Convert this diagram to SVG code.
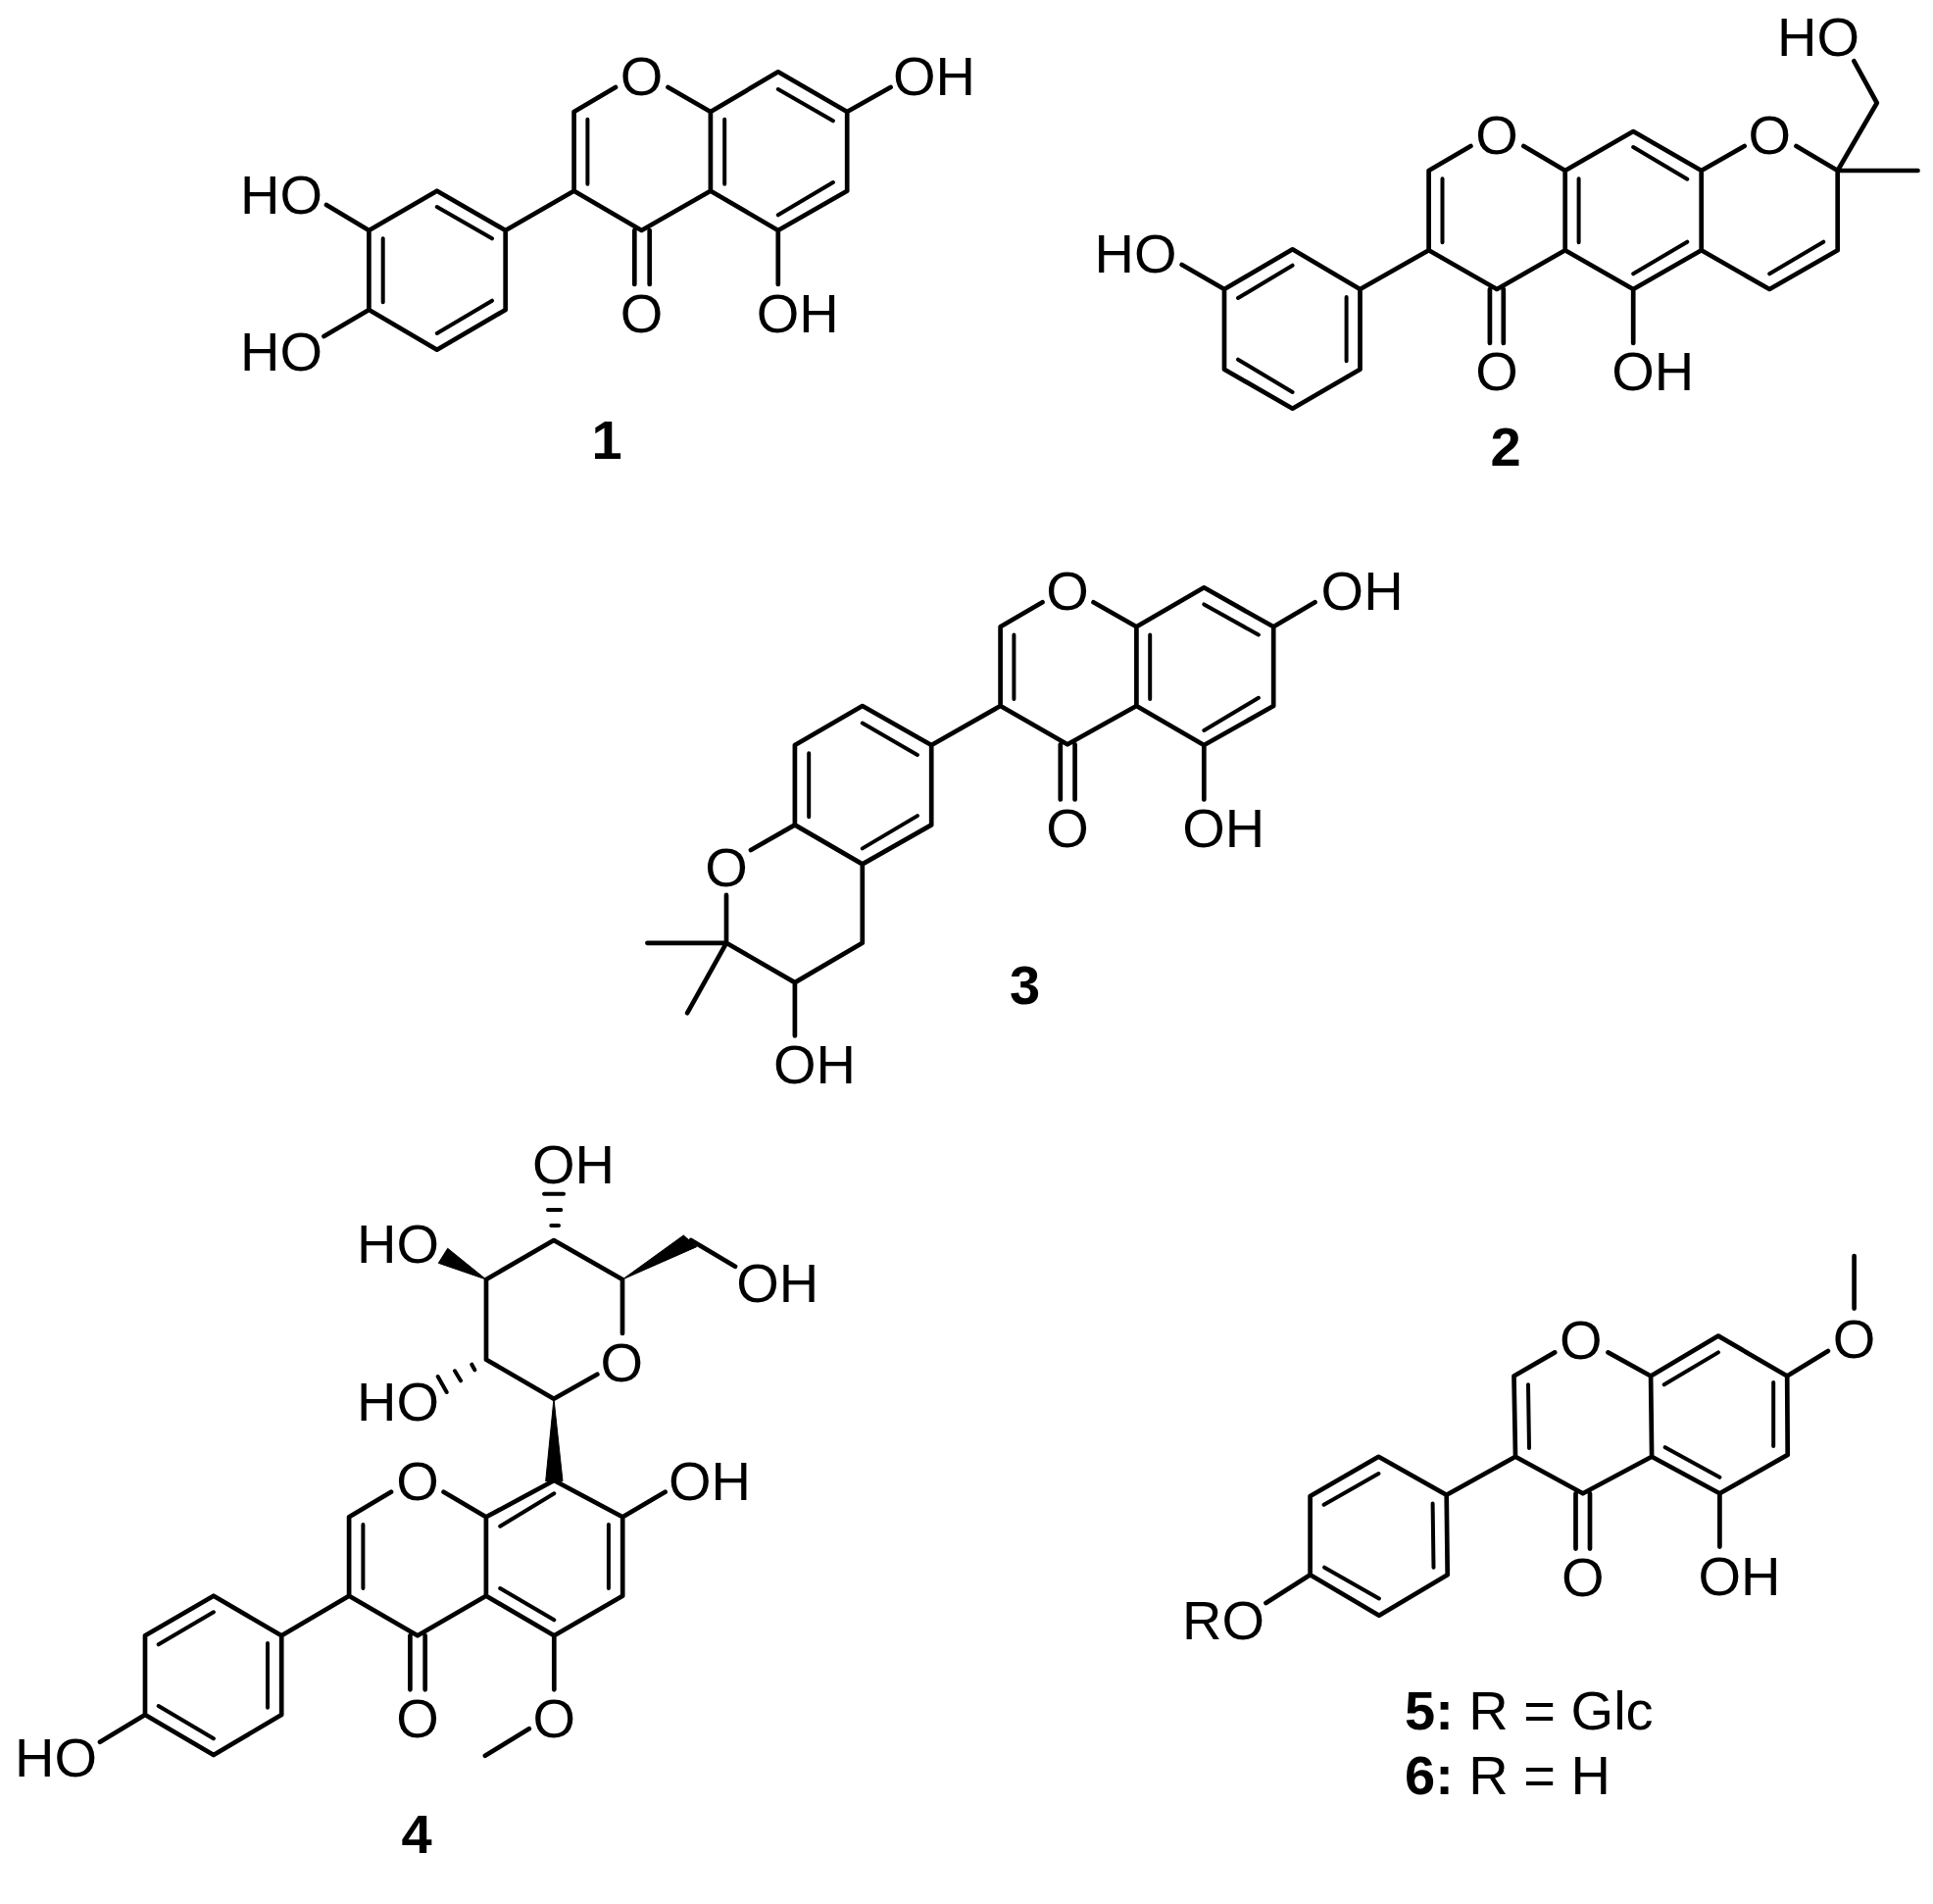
<svg xmlns="http://www.w3.org/2000/svg" width="1972" height="1942" viewBox="0 0 1972 1942">
<style>
.b{fill:none;stroke:#000;stroke-width:4.7;stroke-linecap:round;stroke-linejoin:round}
.i{fill:none;stroke:#000;stroke-width:4;stroke-linecap:round}
.w{fill:#000;stroke:#000;stroke-width:1;stroke-linejoin:round}
text{font-family:"Liberation Sans",Arial,sans-serif;font-size:56px;fill:#000}
.m{text-anchor:middle}
.n{font-weight:bold;font-size:56px}
</style>
<rect width="1972" height="1942" fill="#fff"/>
<g id="compound-1">
<g id="bonds-1">
<path class="b" d="M628 89L585.6 114V194.7L654.5 235L724.9 194.7V114L681.5 89M724.9 114L793.8 73.3L864.2 114V194.7L793.8 235L724.9 194.7M864.2 114L908.6 89M793.8 235V290M647.3 235V290M662.7 235V290M585.6 194.7L515.7 235L445.8 194.7L376.4 235V316L445.8 356.7L515.7 316V235M376.4 235L333 209M376.4 316L330.5 343"/>
<path class="i" d="M599.4 121.7V187.7M739.2 121.7V187.7M793.8 91L849.9 123.3M849.9 186L793.8 219.3M445.8 211L502 243.3M390.7 243.3V308.3M445.8 340L502 306.7"/>
</g>
<text class="m" x="654.5" y="96.5">O</text>
<text x="911" y="96.5">OH</text>
<text class="m" x="654.5" y="338.5">O</text>
<text x="771.8" y="338.5">OH</text>
<text x="245" y="217.5">HO</text>
<text x="245" y="377.5">HO</text>
<text class="n m" x="619" y="468">1</text>
</g>
<g id="compound-2">
<g id="bonds-2">
<path class="b" d="M1500.4 149L1457.6 174V255.3L1527.1 295L1596.7 255.3V174L1554.4 149M1596.7 174L1666.2 134L1735.7 174V255.3L1666.2 295L1596.7 255.3M1735.7 174L1779.6 149M1832.5 149L1874.7 174V255.3L1805.2 295L1735.7 255.3M1874.7 174L1914.8 105L1891.4 62.3M1874.7 174H1956.5M1666.2 295V350M1519.9 295V350M1533.8 295V350M1457.6 255.3L1387.5 295L1318.6 254.3L1249 295V376.7L1318.6 416.7L1387.5 376.7V295M1249 295L1205.7 270"/>
<path class="i" d="M1471.5 182.3V247.3M1610.6 182.3V247.3M1666.2 150L1721.3 182.7M1721.3 246.7L1666.2 279.3M1860.3 246.7L1805.2 279.3M1318.6 270.7L1263 304M1373.6 303V368.3M1263 366.7L1318.6 400"/>
</g>
<text class="m" x="1527.1" y="156.5">O</text>
<text class="m" x="1805.2" y="156.5">O</text>
<text x="1813" y="56.5">HO</text>
<text class="m" x="1527.1" y="397.5">O</text>
<text x="1644.2" y="397.5">OH</text>
<text x="1116.5" y="277.5">HO</text>
<text class="n m" x="1536" y="475">2</text>
</g>
<g id="compound-3">
<g id="bonds-3">
<path class="b" d="M1063.5 614.3L1020.6 639.3V720L1089 759.3L1159.4 720V639.3L1115.5 614.3M1159.4 639.3L1228.3 599.3L1299.2 639.3V720L1228.3 760L1159.4 720M1299.2 639.3L1341.5 614.3M1228.3 760V815.4M1081.8 759.3V815.4M1096.6 759.3V815.4M1020.6 720L950.2 760L879.8 720L810.9 760V841.4L879.8 881.4L950.2 841.4V760M810.9 841.4L766 867M741 912.9V961.8L810.9 1002.1L879.8 961.8V881.4M741 961.8H660.4M741 961.8L701.2 1033.2M810.9 1002.1V1056.4"/>
<path class="i" d="M1034.4 647.5V712.9M1173.2 647.5V712.9M1228.3 616.4L1283.9 647.5M1283.9 711.8L1228.3 745M879.8 737.5L935.9 770M825.2 768.2V833.2M879.8 865.4L935.9 832.1"/>
</g>
<text class="m" x="1089" y="621.5">O</text>
<text x="1347.6" y="621.5">OH</text>
<text class="m" x="1089" y="863.5">O</text>
<text x="1206.3" y="863.5">OH</text>
<text class="m" x="741" y="903.5">O</text>
<text x="788.9" y="1104.5">OH</text>
<text class="n m" x="1045.6" y="1024">3</text>
</g>
<g id="compound-4">
<g id="bonds-4">
<path class="b" d="M399 1521.7L356.1 1547.3V1627.7L426 1668.3L495.9 1627.7V1547.3L452.6 1521.7M495.9 1547.3L565.3 1510L635.2 1547.3V1627.7L565.3 1668.3L495.9 1627.7M635.2 1547.3L678.6 1521.7M565.3 1668.3V1723.3M418.4 1668.3V1723.3M433.7 1668.3V1723.3M539.8 1763.3L494.9 1790.7M356.1 1627.7L287.2 1668.3L217.9 1627.7L148 1668.3V1749L217.9 1790L287.2 1749V1668.3M148 1749L102 1776.7M609.3 1401.7L565 1426.7L496 1386.7V1305L565 1265L635 1305V1360M705 1265L750 1291.7"/>
<path class="i" d="M370.4 1555V1620M510.2 1556.7L565.3 1523.3M620.9 1555V1620M510.2 1620L565.3 1652.3M217.9 1644.3L161.7 1677.3M273 1676V1741.7M161.7 1740L217.9 1773.3M555 1217.7H575M559 1234H572.3M562.3 1250H570M481.3 1391.7L484.3 1397.3M464 1398.3L470 1408.3M446.7 1404L455.7 1420"/>
<path class="w" d="M496 1305L456.7 1273.3L447.3 1288.3Z"/>
<path class="w" d="M635 1305L697.3 1260L710.7 1271.7Z"/>
<path class="w" d="M565 1426.7L556.7 1510.7H574Z"/>
</g>
<text class="m" x="426" y="1529.5">O</text>
<text x="682" y="1529.5">OH</text>
<text class="m" x="426" y="1771.5">O</text>
<text class="m" x="565.3" y="1771.5">O</text>
<text x="15" y="1811.5">HO</text>
<text x="543" y="1206.5">OH</text>
<text x="364" y="1287.5">HO</text>
<text x="751.3" y="1327.5">OH</text>
<text class="m" x="634.3" y="1408.5">O</text>
<text x="364" y="1448.5">HO</text>
<text class="n m" x="425" y="1890">4</text>
</g>
<g id="compound-5-6">
<g id="bonds-5">
<path class="b" d="M1586.2 1379.4L1544.5 1403.5L1546 1485.8L1614.8 1523.3L1685.1 1485.8L1684.1 1403.5L1640.5 1379.4M1684.1 1403.5L1753 1362.6L1823.2 1403.5L1823.7 1483.9L1754.4 1523.3L1685.1 1485.8M1823.2 1403.5L1864.9 1377.9M1891.6 1334.6V1281M1754.4 1523.3V1577.6M1607.5 1523.3V1579.6M1622 1523.3V1579.6M1546 1485.8L1475.7 1524.8L1406.4 1485.8L1336.6 1526V1606.3L1406.9 1647.7L1476.7 1606.3L1475.7 1524.8M1336.6 1606.3L1291.5 1635"/>
<path class="i" d="M1559 1412.3L1560 1477M1697.7 1412.3L1753 1379.4M1809.2 1410V1475M1698.7 1476.2L1754.4 1506.8M1406.4 1503L1350.6 1534.8M1461.6 1533.6L1462.5 1598.7M1351.1 1598.7L1406.9 1630.5"/>
</g>
<text class="m" x="1612.9" y="1385.5">O</text>
<text class="m" x="1891.6" y="1384.5">O</text>
<text class="m" x="1614.8" y="1627.5">O</text>
<text x="1732.4" y="1626.5">OH</text>
<text x="1206" y="1671.5">RO</text>
<text x="1433" y="1764"><tspan class="n">5:</tspan> R = Glc</text>
<text x="1433" y="1830"><tspan class="n">6:</tspan> R = H</text>
</g>
</svg>
